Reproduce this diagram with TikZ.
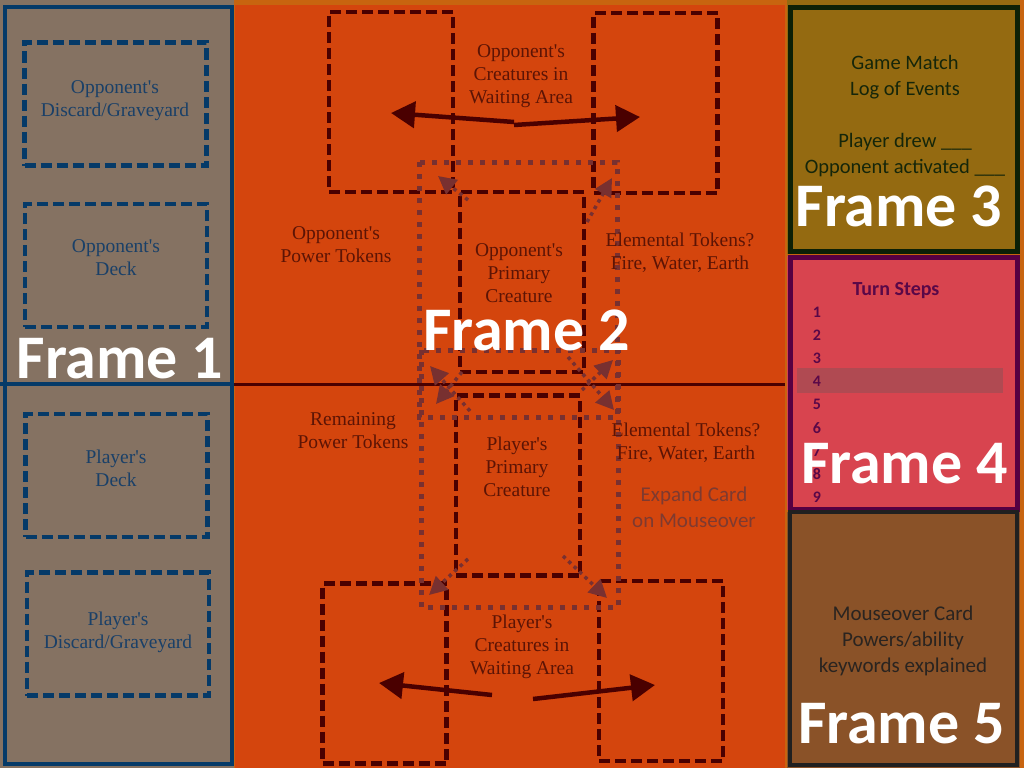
\documentclass[tikz,border=0pt]{standalone}
\usepackage{fontspec}
\setmainfont{Liberation Serif}
\newfontfamily\calfont{Carlito}
\usetikzlibrary{arrows.meta,positioning}

\definecolor{edgeorange}{HTML}{C8640F}
\definecolor{tanfill}{HTML}{857262}
\definecolor{deckblue}{HTML}{053A68}
\definecolor{decktext}{HTML}{1A4068}
\definecolor{boardorange}{HTML}{D4450D}
\definecolor{maroon}{HTML}{4A0000}
\definecolor{boardtext}{HTML}{5C1405}
\definecolor{dotmaroon}{HTML}{783030}
\definecolor{hinttext}{HTML}{7E3A30}
\definecolor{logfill}{HTML}{946A11}
\definecolor{logline}{HTML}{0C2006}
\definecolor{logtext}{HTML}{15260A}
\definecolor{turnfill}{HTML}{D8444F}
\definecolor{turnline}{HTML}{560042}
\definecolor{turnband}{HTML}{B04A52}
\definecolor{turntext}{HTML}{5A0848}
\definecolor{cardfill}{HTML}{8A5228}
\definecolor{cardline}{HTML}{202020}
\definecolor{cardtext}{HTML}{2A2420}

\newcommand{\ap}{\textquotesingle}

\tikzset{
  card/.style={draw=maroon, line width=4.5pt, dash pattern=on 11pt off 5pt,
    minimum width=124pt, minimum height=180pt, inner sep=0pt},
  deckbox/.style={card, draw=deckblue, minimum width=182pt, minimum height=123pt},
  serif/.style={align=center, inner sep=0pt, font=\fontsize{19.5}{23}\selectfont},
  decklabel/.style={serif, text=decktext},
  boardlabel/.style={serif, text=boardtext},
  uilabel/.style={align=center, inner sep=0pt, font=\calfont\fontsize{20.5}{26}\selectfont},
  framelabel/.style={anchor=base, inner sep=0pt, text=white,
    font=\calfont\bfseries\fontsize{62}{62}\selectfont},
  stepnum/.style={inner sep=0pt, text height=11pt, text depth=0pt, text=turntext,
    font=\calfont\bfseries\fontsize{16}{16}\selectfont},
  bigarrow/.style={draw=maroon, line width=4.5pt, -{Triangle[length=24pt,width=26pt]}},
  dotarrow/.style={draw=dotmaroon, line width=3.5pt, dash pattern=on 3.5pt off 4pt,
    -{Triangle[length=18pt,width=18pt]}},
  dotbox/.style={draw=dotmaroon, line width=5pt, dash pattern=on 5pt off 7pt}
}

\begin{document}
\begin{tikzpicture}[x=1pt, y=-1pt, node distance=11.75pt]
      \useasboundingbox (0,0) rectangle (1024,768);
      \fill[edgeorange] (0,0) rectangle (1024,768);

      % frame backgrounds
      \fill[tanfill] (0,0) rectangle (234,768);
      \fill[boardorange] (235,5) rectangle (785,768);
      \fill[logfill] (787,0) rectangle (1020,254);
      \fill[turnfill] (787,256) rectangle (1020,510);
      \fill[cardfill] (787,512) rectangle (1020,768);
      \draw[deckblue, line width=4pt] (5,7) rectangle (232,764);
      \draw[deckblue, line width=4pt] (0,384) -- (234,384);
      \draw[maroon, line width=3pt] (234,384) -- (785,384);
      \draw[logline, line width=5pt] (790,8) rectangle (1017,251);
      \draw[turnline, line width=5pt] (790,257) rectangle (1017,509);
      \draw[cardline, line width=4pt] (790,512) rectangle (1017,765);

      % frame 1
      \node[deckbox] (oppdiscard) at (115.5,104) {};
      \node[deckbox] (oppdeck) at (116,265.5) {};
      \node[deckbox] (pldeck) at (116.5,475.5) {};
      \node[deckbox] (pldiscard) at (118,634) {};
      \node[decklabel] (oppdiscardtxt) at (115,101) {Opponent\ap s\\Discard/Graveyard};
      \node[decklabel] (oppdecktxt) at (116,258) {Opponent\ap s\\Deck};
      \node[decklabel] (pldecktxt) at (116,468) {Player\ap s\\Deck};
      \node[decklabel] (pldiscardtxt) at (118,632) {Player\ap s\\Discard/Graveyard};

      % frame 2
      \node[card] (oppwaitl) at (391,102) {};
      \node[card] (oppwaitr) at (655.5,103) {};
      \node[card] (oppprim) at (522,282) {};
      \node[card] (plprim) at (518,485.5) {};
      \node[card] (plwaitl) at (384.5,673.5) {};
      \node[card] (plwaitr) at (661,671) {};

      \draw[dotbox] (419,162) rectangle (617,417);
      \draw[dotbox] (421,350) rectangle (618,607);

      \coordinate (oppmidl) at (514,122);
      \coordinate (oppmidr) at (514,125);
      \coordinate (oppendl) at (391,113);
      \coordinate (oppendr) at (640,117);
      \coordinate (plmidl) at (492,695);
      \coordinate (plmidr) at (533,699);
      \coordinate (plendl) at (379,683);
      \coordinate (plendr) at (655,685);
      \draw[bigarrow] (oppmidl) -- (oppendl);
      \draw[bigarrow] (oppmidr) -- (oppendr);
      \draw[bigarrow] (plmidl) -- (plendl);
      \draw[bigarrow] (plmidr) -- (plendr);

      \coordinate (a1) at (468,200);
      \coordinate (b1) at (438,176);
      \coordinate (a2) at (587,222);
      \coordinate (b2) at (612,178);
      \coordinate (a3) at (470,411);
      \coordinate (b3) at (430,366);
      \coordinate (a4) at (462,372);
      \coordinate (b4) at (436,404);
      \coordinate (a5) at (568,357);
      \coordinate (b5) at (614,410);
      \coordinate (a6) at (582,390);
      \coordinate (b6) at (613,360);
      \coordinate (a7) at (468,559);
      \coordinate (b7) at (429,595);
      \coordinate (a8) at (563,556);
      \coordinate (b8) at (607,598);
      \draw[dotarrow] (a1) -- (b1);
      \draw[dotarrow] (a2) -- (b2);
      \draw[dotarrow] (a3) -- (b3);
      \draw[dotarrow] (a4) -- (b4);
      \draw[dotarrow] (a5) -- (b5);
      \draw[dotarrow] (a6) -- (b6);
      \draw[dotarrow] (a7) -- (b7);
      \draw[dotarrow] (a8) -- (b8);

      \node[boardlabel] (oppwaittxt) at (521,76) {Opponent\ap s\\Creatures in\\Waiting Area};
      \node[boardlabel] (opppower) at (336,244.5) {Opponent\ap s\\Power Tokens};
      \node[boardlabel] (oppprimtxt) at (519,273) {Opponent\ap s\\Primary\\Creature};
      \node[boardlabel] (oppelem) at (680,253) {Elemental Tokens?\\Fire, Water, Earth};
      \node[boardlabel] (plpower) at (353,431) {Remaining\\Power Tokens};
      \node[boardlabel] (plprimtxt) at (517,467) {Player\ap s\\Primary\\Creature};
      \node[boardlabel] (plelem) at (686,443) {Elemental Tokens?\\Fire, Water, Earth};
      \node[uilabel, text=hinttext, font=\calfont\fontsize{21}{26}\selectfont] (expand) at (694,507) {Expand Card\\on Mouseover};
      \node[boardlabel] (plwaittxt) at (522,647) {Player\ap s\\Creatures in\\Waiting Area};

      % frame 3
      \node[uilabel, text=logtext] (log) at (905,116) {Game Match\\Log of Events\\ \\Player drew \_\_\_\\Opponent activated \_\_\_};

      % frame 4
      \fill[turnband] (797,368) rectangle (1003,393);
      \node[anchor=base, inner sep=0pt, text=turntext, font=\calfont\bfseries\fontsize{20}{20}\selectfont] (steps) at (896,295) {Turn Steps};
      \node[stepnum, anchor=base] (n1) at (817,317.3) {1};
      \node[stepnum] (n2) [below=of n1] {2};
      \node[stepnum] (n3) [below=of n2] {3};
      \node[stepnum] (n4) [below=of n3] {4};
      \node[stepnum] (n5) [below=of n4] {5};
      \node[stepnum] (n6) [below=of n5] {6};
      \node[stepnum] (n7) [below=of n6] {7};
      \node[stepnum] (n8) [below=of n7] {8};
      \node[stepnum] (n9) [below=of n8] {9};

      % frame 5
      \node[uilabel, text=cardtext, font=\calfont\fontsize{21}{26}\selectfont] (mouseover) at (903,641) {Mouseover Card\\Powers/ability\\keywords explained};

      \node[framelabel] (f1) at (120,378) {Frame 1};
      \node[framelabel] (f2) at (526.5,350) {Frame 2};
      \node[framelabel] (f3) at (899,226.7) {Frame 3};
      \node[framelabel] (f4) at (904.5,483.3) {Frame 4};
      \node[framelabel] (f5) at (901.5,743.3) {Frame 5};
    \end{tikzpicture}
\end{document}
